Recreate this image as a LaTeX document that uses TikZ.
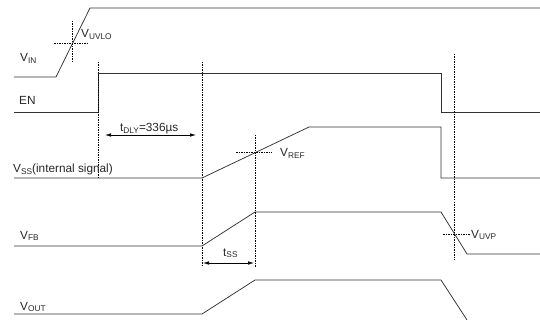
\documentclass[tikz,border=0pt]{standalone}
\usepackage{fontspec}
\setmainfont{Liberation Sans}
\usetikzlibrary{arrows.meta}
\newcommand{\sbs}[1]{\raisebox{-0.3ex}{\fontsize{8.3}{9}\selectfont #1}}
\begin{document}
\begin{tikzpicture}[x=1pt,y=-1pt,
  wave/.style={line width=0.75pt, black!80},
  guide/.style={line width=0.5pt, black, dash pattern=on 1.5pt off 1pt},
  lbl/.style={font=\fontsize{11.8}{13}\selectfont, inner sep=0pt, anchor=base west, text=black!85},
  dim/.style={line width=0.6pt, {Latex[length=6pt,width=3.5pt]}-{Latex[length=6pt,width=3.5pt]}}]
\useasboundingbox (0,0) rectangle (540,320);
% VIN
\draw[wave] (14,77) -- (56,77) -- (90,8) -- (540,8);
\draw[guide] (72,21) -- (72,63);
\draw[guide] (54,43) -- (87,43);
\node[lbl] (vin) at (20,62) {V\sbs{IN}};
\node[lbl] (uvlo) at (81,38) {V\sbs{UVLO}};
% EN
\draw[wave] (14,112) -- (98,112) -- (98,73) -- (441,73) -- (441,112) -- (540,112);
\node[lbl] (en) at (19,105) {EN};
% guides
\draw[guide] (98,62) -- (98,178);
\draw[guide] (202,62) -- (202,267);
\draw[guide] (255,135) -- (255,267);
\draw[guide] (454,54) -- (454,260);
% tDLY
\coordinate (d1) at (105,135);
\coordinate (d2) at (196,135);
\draw[dim] (d1) -- (d2);
\node[lbl] (tdly) at (120,132) {t\sbs{DLY}=336µs};
% VSS
\draw[wave] (14,178) -- (202,178) -- (309,127) -- (441,127) -- (441,178) -- (540,178);
\node[lbl] (vss) at (13,173) {V\sbs{SS}(internal signal)};
\draw[guide] (236,152) -- (272,152);
\node[lbl] (vref) at (280,157) {V\sbs{REF}};
% VFB
\draw[wave] (14,246) -- (202,246) -- (255,212) -- (441,212) -- (467,254) -- (540,254);
\node[lbl] (vfb) at (20,239) {V\sbs{FB}};
\draw[guide] (443,234) -- (470,234);
\node[lbl] (vuvp) at (471,238) {V\sbs{UVP}};
% tSS
\coordinate (s1) at (203,263);
\coordinate (s2) at (254,263);
\draw[dim] (s1) -- (s2);
\node[lbl] (tss) at (223,256) {t\sbs{SS}};
% VOUT
\draw[wave] (14,314) -- (202,314) -- (255,280) -- (441,280) -- (467,320);
\node[lbl] (vout) at (20,310) {V\sbs{OUT}};
\end{tikzpicture}
\end{document}
